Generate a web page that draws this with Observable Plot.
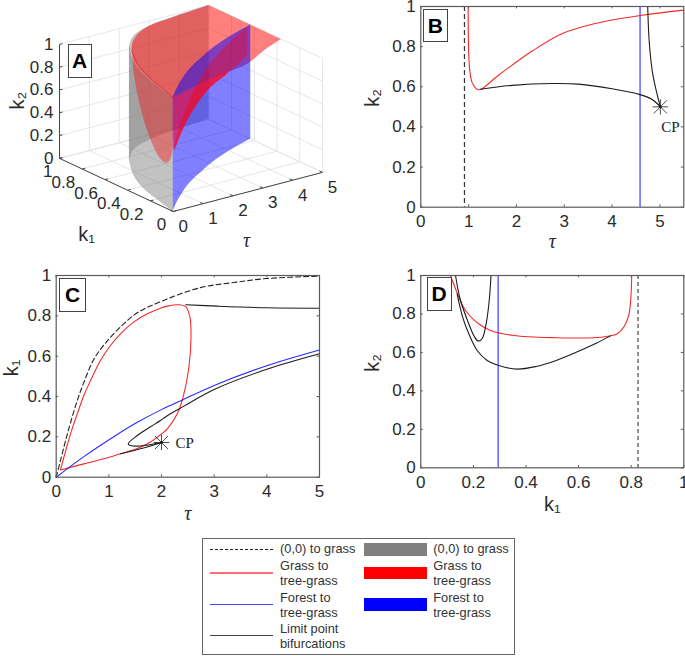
<!DOCTYPE html>
<html><head><meta charset="utf-8">
<script src="https://cdn.jsdelivr.net/npm/d3@7"></script>
<script src="https://cdn.jsdelivr.net/npm/@observablehq/plot@0.6"></script>
<style>
html,body{margin:0;padding:0;background:#fff}
#page{position:relative;width:685px;height:656px;overflow:hidden;font-family:"Liberation Sans",Arial,sans-serif;color:#2b2b2b}
#page>div.p{position:absolute}
.tag{position:absolute;box-sizing:border-box;background:#fff;border:1px solid #444;font-weight:bold;font-size:21px;color:#000;display:flex;align-items:center;justify-content:center}
.lg{position:absolute;font-size:12.8px;line-height:16px;transform:translateY(-50%);white-space:nowrap;color:#333}
#legend{position:absolute;left:201.5px;top:537.5px;width:313px;height:117px;box-sizing:border-box;border:1px solid #666}
.ln{position:absolute;left:210px;width:63px}
.sw{position:absolute;left:364px;width:63px;height:12.4px}
</style></head><body><div id="page"></div>
<script>
const BLK="#1c1c1c",RED="#f42a2a",BLU="#2a2aff",AX="#5a5a5a",TXT="#2b2b2b";
// ---- Panel B: tau vs k2 (k1 fixed)
const bDashTau=0.913, bBlueTau=4.585;
const bRedT=[.99,1.0,1.024,1.07,1.14,1.21,1.28,1.56,1.91,2.33,2.95,3.65,4.585,5.5];
const bRedK=[1,.78,.681,.623,.595,.585,.59,.645,.708,.778,.864,.915,.955,.982];
const bBlk1T=[1.25,1.91,2.75,3.30,4.0,4.585,4.84,5.01];
const bBlk1K=[.588,.607,.616,.613,.59,.561,.537,.50];
const bBlk2T=[5.01,4.94,4.85,4.78,4.745];
const bBlk2K=[.50,.565,.664,.814,1];
const bCP=[5.01,.5];
// ---- Panel C: tau vs k1 (k2 fixed)
const cDashT=[0,.082,.177,.272,.40,.525,.715,.937,1.22,1.54,1.98,2.74,3.37,4,5];
const cDashK=[0,.083,.18,.27,.38,.47,.585,.665,.745,.815,.87,.94,.965,.985,.997];
const cRedT=[.082,.146,.272,.40,.525,.652,.84,1.03,1.22,1.47,1.73,1.98,2.11,2.33,2.46,2.54,2.56,2.52,2.41,2.30,2.11,1.89,1.75,1.54,1.22,.905,.525,.082];
const cRedK=[.036,.099,.215,.314,.405,.479,.579,.653,.711,.769,.81,.838,.848,.855,.846,.793,.694,.545,.397,.314,.24,.193,.168,.142,.116,.091,.066,.036];
const cBluT=[0,.525,1.16,1.54,2,2.39,3,4,5];
const cBluK=[0,.102,.212,.272,.335,.382,.455,.553,.631];
const cBlk1T=[2,1.6,1.41,1.367,1.54,1.79,1.98,2.11,2.41,3,4,5];
const cBlk1K=[.172,.155,.157,.165,.207,.25,.281,.305,.35,.435,.535,.612];
const cBlk2T=[2,1.66,1.22];
const cBlk2K=[.172,.145,.116];
const cBlk3T=[2.46,3.06,4,5];
const cBlk3K=[.855,.848,.84,.838];
const cCP=[2,.172];
// ---- Panel D: k1 vs k2 (tau fixed)
const dDashK1=.826, dBlueK1=.294;
const dRedX=[.113,.132,.17,.22,.265,.354,.515,.6,.683,.747,.773,.79,.798,.802];
const dRedY=[1,.931,.818,.749,.714,.688,.676,.675,.679,.697,.735,.79,.87,1];
const dBlk1X=[.132,.151,.1825,.2015,.218,.233,.246,.259,.267];
const dBlk1Y=[1,.87,.749,.688,.659,.671,.731,.853,1];
const dBlk2X=[.138,.16,.1826,.2144,.2525,.2966,.3665,.4388,.5148,.5908,.6668,.7213];
const dBlk2Y=[.905,.78,.697,.61,.558,.532,.513,.527,.558,.601,.648,.686];
// ---- Panel A: surfaces in (tau,k1,k2)
const gT=[0,.156,.414,.811,1.41,1.96,2.81,3.68,5], gK=[0,.152,.367,.56,.755,.862,.939,.969,1];
const gSplit=4;
const rTopT=[0,0,.234,.455,.78,1.28,1.77,2.53,3.68,5,5,5,5,4.11,3.14,2.32,1.51,.77,0,0];
const rTopK=[0,0,.173,.348,.521,.70,.815,.923,.969,1,1,.365,.365,.282,.173,.135,.098,.05,0,0];
const rLeftT=[0,0,.234,.455,.78,1.28,1.28,1.2,1.0,.8,.6,.45,.35,.3,.2,.1,0,0,0];
const rLeftK=[0,0,.173,.348,.521,.70,.70,.676,.609,.513,.401,.289,.204,.14,.082,.035,0,0,0];
const rLeftZ=[1,1,1,1,1,1,1,.972,.856,.68,.527,.399,.344,.342,.402,.512,.684,1,1];
const rInT=[.1,.1,.3,.8,1.5,2.4,3.6,3.6,2.32,1.51,.77,0,0,0,.1];
const rInK=[.021,.021,.059,.117,.183,.303,.47,.47,.135,.098,.05,0,0,0,.021];
const rInZ=[.518,.518,.516,.63,.757,.785,.743,.743,1,1,1,1,1,.7,.518];
const rBandT=[.1,.1,.3,.8,1.5,2.4,3.6,5,5,5,5,3.6,2.4,1.5,.8,.3,.1,.1];
const rBandK=[.021,.021,.044,.102,.213,.332,.47,.662,.662,.662,.662,.47,.303,.183,.117,.059,.021,.021];
const rBandZ=[.518,.518,.641,.784,.86,.947,1,.967,.967,.718,.718,.743,.785,.757,.63,.516,.518,.518];
const aTauTicks=[0,1,2,3,4,5], aK1Ticks=[0,.2,.4,.6,.8,1], aK2Ticks=[0,.2,.4,.6,.8,1];

const zip=(a,b)=>a.map((v,i)=>({x:v,y:b[i]}));
const lin=(a,b,o={})=>Plot.line(zip(a,b),{x:"x",y:"y",curve:"catmull-rom",strokeWidth:1.1,...o});
const fmt=d=>String(d);
const page=document.getElementById("page");
const t10=[0,.2,.4,.6,.8,1];
function boxMarks(xt,yt,xs,ys,xlab,ylab,ydx,xdy){
  const lx=(xs[1]-xs[0])*.0095, ly=.012;
  return [
    Plot.axisX(xt,{tickSize:0,tickPadding:8,tickFormat:fmt,label:null,fontSize:17,fill:TXT}),
    Plot.axisY(yt,{tickSize:0,tickPadding:5,tickFormat:fmt,label:null,fontSize:17,fill:TXT}),
    Plot.ruleX(xt,{y1:ys[0],y2:ys[0]+ly,stroke:AX}),
    Plot.ruleX(xt,{y1:ys[1]-ly,y2:ys[1],stroke:AX}),
    Plot.ruleY(yt,{x1:xs[0],x2:xs[0]+lx,stroke:AX}),
    Plot.ruleY(yt,{x1:xs[1]-lx,x2:xs[1],stroke:AX}),
    Plot.frame({stroke:AX,strokeWidth:1.2}),
    Plot.text([ylab],{frameAnchor:"left",dx:ydx,rotate:-90,fontSize:20,fill:TXT}),
    xlab==="τ"
      ? Plot.text([xlab],{frameAnchor:"bottom",dy:xdy,fontSize:20,fontStyle:"italic",fontFamily:"Liberation Serif",fill:TXT})
      : Plot.text([xlab],{frameAnchor:"bottom",dy:xdy,fontSize:20,fill:TXT})
  ];
}
function star(p){
  return [Plot.dot([p],{x:d=>d[0],y:d=>d[1],symbol:"plus",r:5,stroke:BLK,strokeWidth:.8}),
          Plot.dot([p],{x:d=>d[0],y:d=>d[1],symbol:"times",r:6,stroke:BLK,strokeWidth:.8}),
          Plot.dot([p],{x:d=>d[0],y:d=>d[1],r:1.3,fill:BLK})];
}
function put(plot,l,t){const d=document.createElement("div");d.className="p";d.style.left=l+"px";d.style.top=t+"px";d.append(plot);page.append(d);}
const base={style:{background:"transparent",overflow:"visible",fontFamily:"'Liberation Sans',Arial,sans-serif",fontSize:"17px"}};

// Panel A: orthographic view of (tau,k1,k2)
const P=(t,k,z)=>({u:t/5*1.313-k,v:t/5*.343+k*.466+z});
const pl=(T,K,Z)=>T.map((t,i)=>P(t,K[i],Array.isArray(Z)?Z[i]:Z));
const wallData=(T,K)=>T.map((t,i)=>({u:P(t,K[i],0).u,v0:P(t,K[i],0).v,v1:P(t,K[i],1).v}));
const wall=(T,K,fill,op)=>Plot.area(wallData(T,K),{x1:"u",y1:"v0",y2:"v1",fill,fillOpacity:op,curve:"catmull-rom"});
const seg=(a,b)=>{const p=P(...a),q=P(...b);return{x1:p.u,y1:p.v,x2:q.u,y2:q.v};};
const grid=[];
for(const t of aTauTicks){grid.push(seg([t,0,0],[t,1,0]),seg([t,1,0],[t,1,1]));}
for(const k of aK1Ticks){grid.push(seg([0,k,0],[5,k,0]),seg([5,k,0],[5,k,1]));}
for(const z of aK2Ticks){grid.push(seg([0,1,z],[5,1,z]),seg([5,1,z],[5,0,z]));}
const axesA=[seg([0,0,0],[5,0,0]),seg([0,0,0],[0,1,0]),seg([0,1,0],[0,1,1])];
const ticksA=[
  ...aTauTicks.map(t=>seg([t,0,0],[t,.025,0])),
  ...aK1Ticks.map(k=>seg([0,k,0],[.1,k,0])),
  ...aK2Ticks.map(z=>seg([0,1,z],[.1,1,z]))];
const poly=(pts,fill,op)=>Plot.line(pts,{x:"u",y:"v",fill,fillOpacity:op,stroke:"none",curve:"catmull-rom"});
const link=(d,stroke,strokeWidth)=>Plot.link(d,{x1:"x1",y1:"y1",x2:"x2",y2:"y2",stroke,strokeWidth});
const txt=(arr,dx,dy,anchor)=>Plot.text(arr,{x:"u",y:"v",text:"s",dx,dy,textAnchor:anchor,fontSize:17,fill:TXT});
put(Plot.plot({...base,width:345,height:260,margin:0,
  x:{domain:[-172.7/113.7,172.3/113.7],range:[0,345],axis:null},
  y:{domain:[-49/114,211/114],range:[260,0],axis:null},
  marks:[
    link(grid,"#e3e3e3",.9),
    wall(gT.slice(0,gSplit+1),gK.slice(0,gSplit+1),"#808080",.48),
    wall(gT.slice(gSplit),gK.slice(gSplit),"#808080",.48),
    poly(pl(rTopT,rTopK,1),"#ff0000",.5),
    poly(pl(rLeftT,rLeftK,rLeftZ),"#ff0000",.38),
    wall(cBluT,cBluK,"#0000ff",.5),
    poly(pl(rInT,rInK,rInZ),"#ff0030",.6),
    poly(pl(rBandT,rBandK,rBandZ),"#ff0000",.38),
    Plot.line(pl(rTopT.slice(1,6),rTopK.slice(1,6),1),{x:"u",y:"v",stroke:"#f01828",strokeWidth:1,strokeOpacity:.8,curve:"catmull-rom"}),
    link(axesA,"#444",1),
    link(ticksA,"#444",1),
    txt(aTauTicks.map(t=>({...P(t,0,0),s:fmt(t)})),10,15,"middle"),
    txt(aK1Ticks.map(k=>({...P(0,k,0),s:fmt(k)})),-7,13.5,"end"),
    txt(aK2Ticks.map(z=>({...P(0,1,z),s:fmt(z)})),-6,0,"end"),
    Plot.text(["k₁"],{frameAnchor:"top-left",dx:86,dy:226,fontSize:20,fill:TXT,textAnchor:"middle"}),
    Plot.text(["k₂"],{frameAnchor:"top-left",dx:9,dy:100,rotate:-90,fontSize:20,fill:TXT,textAnchor:"middle"}),
    Plot.text(["τ"],{frameAnchor:"top-left",dx:246,dy:232,fontSize:20,fontStyle:"italic",fontFamily:"Liberation Serif",fill:TXT,textAnchor:"middle"})
  ]}),0,0);

// Panel B
put(Plot.plot({...base,width:340,height:260,marginLeft:75.3,marginRight:1.7,marginTop:6,marginBottom:53.3,
  x:{domain:[0,5.5],axis:null},y:{domain:[0,1],axis:null},
  marks:[
    Plot.ruleX([bDashTau],{stroke:"#333",strokeDasharray:"5,3",strokeWidth:1.2}),
    Plot.ruleX([bBlueTau],{stroke:BLU,strokeWidth:1.1}),
    lin(bRedT,bRedK,{stroke:RED}),
    lin(bBlk1T,bBlk1K,{stroke:BLK}),
    lin(bBlk2T,bBlk2K,{stroke:BLK}),
    ...star(bCP),
    Plot.text(["CP"],{x:5.22,y:.4,fontFamily:"Liberation Serif",fontSize:15,fill:BLK}),
    ...boxMarks([0,1,2,3,4,5],t10,[0,5.5],[0,1],"τ","k₂",-48,41)
  ]}),345,0);

// Panel C
put(Plot.plot({...base,width:345,height:260,marginLeft:55.7,marginRight:26,marginTop:15,marginBottom:43.3,
  x:{domain:[0,5],axis:null},y:{domain:[0,1],axis:null},
  marks:[
    lin(cDashT,cDashK,{stroke:"#222",strokeDasharray:"5,3"}),
    lin(cRedT,cRedK,{stroke:RED}),
    lin(cBluT,cBluK,{stroke:BLU}),
    lin(cBlk1T,cBlk1K,{stroke:BLK}),
    lin(cBlk2T,cBlk2K,{stroke:BLK}),
    lin(cBlk3T,cBlk3K,{stroke:BLK}),
    ...star(cCP),
    Plot.text(["CP"],{x:2.44,y:.169,fontFamily:"Liberation Serif",fontSize:15,fill:BLK}),
    ...boxMarks([0,1,2,3,4,5],t10,[0,5],[0,1],"τ","k₁",-45,43)
  ]}),0,260);

// Panel D
put(Plot.plot({...base,width:340,height:260,marginLeft:75.3,marginRight:1.7,marginTop:15,marginBottom:52.7,
  x:{domain:[0,1],axis:null},y:{domain:[0,1],axis:null},
  marks:[
    Plot.ruleX([dDashK1],{stroke:"#333",strokeDasharray:"4,3",strokeWidth:1.1}),
    Plot.ruleX([dBlueK1],{stroke:BLU,strokeWidth:1.1}),
    lin(dRedX,dRedY,{stroke:RED}),
    lin(dBlk1X,dBlk1Y,{stroke:BLK}),
    lin(dBlk2X,dBlk2Y,{stroke:BLK}),
    ...boxMarks(t10,t10,[0,1],[0,1],"k₁","k₂",-48,43)
  ]}),345,260);

// Panel tags
const tags=[["A",67.7,44.3,24,33.7],["B",423,9.3,24.7,33],["C",59.3,278.3,26.7,33.4],["D",426.7,277.3,25,33.4]];
for(const [s,l,t,w,h] of tags){const d=document.createElement("div");d.className="tag";d.textContent=s;Object.assign(d.style,{left:l+"px",top:t+"px",width:w+"px",height:h+"px"});page.append(d);}

// Legend
const legLeft=[["(0,0) to grass",549.3],["Grass to",565.7],["tree-grass",581],["Forest to",597.7],["tree-grass",612.7],["Limit point",629],["bifurcations",644]];
const legRight=[["(0,0) to grass",549.3],["Grass to",565.7],["tree-grass",581],["Forest to",597.7],["tree-grass",612.7]];
const legLines=[[549,"1px dashed #222"],[572,"2px solid #ff7070"],[604,"1.5px solid #4040ff"],[635,"1.5px solid #444"]];
const legSwatches=[[543.3,"#808080"],[567,"#ff0000"],[598.3,"#0000ff"]];
const box=document.createElement("div");box.id="legend";page.append(box);
const addT=(s,x,y)=>{const d=document.createElement("div");d.className="lg";d.textContent=s;d.style.left=x+"px";d.style.top=y+"px";page.append(d);};
legLeft.forEach(([s,y])=>addT(s,280,y));
legRight.forEach(([s,y])=>addT(s,433.3,y));
legLines.forEach(([y,b])=>{const d=document.createElement("div");d.className="ln";d.style.top=y+"px";d.style.borderTop=b;page.append(d);});
legSwatches.forEach(([y,c])=>{const d=document.createElement("div");d.className="sw";d.style.top=y+"px";d.style.background=c;page.append(d);});
</script>
</body></html>
